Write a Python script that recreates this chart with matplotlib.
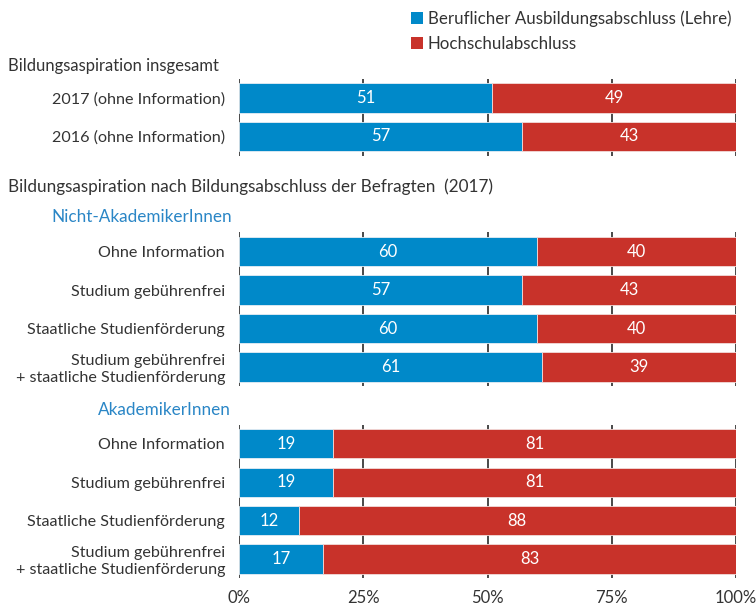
import matplotlib.pyplot as plt
import matplotlib.transforms as mtransforms
from matplotlib.patches import Patch

plt.rcParams['font.family'] = ['Lato', 'DejaVu Sans']

# Daten
labels_gesamt = ['2017 (ohne Information)', '2016 (ohne Information)']
labels_massnahmen = ['Ohne Information', 'Studium gebührenfrei', 'Staatliche Studienförderung',
                     'Studium gebührenfrei\n+ staatliche Studienförderung']
lehre_gesamt = [51, 57]
hochschule_gesamt = [49, 43]
lehre_nicht_akad = [60, 57, 60, 61]
hochschule_nicht_akad = [40, 43, 40, 39]
lehre_akad = [19, 19, 12, 17]
hochschule_akad = [81, 81, 88, 83]
x_ticks = [0, 25, 50, 75, 100]
x_ticklabels = ['0%', '25%', '50%', '75%', '100%']

blau = '#0089c9'
rot = '#c8322a'
text_col = '#333333'
head_blue = '#2a86c6'

fig = plt.figure(figsize=(7.56, 6.11), dpi=100)
ax = fig.add_axes([239 / 756, 1 - 582 / 611, (736 - 239) / 756, (582 - 75) / 611])

# Positionen: Gruppen mit Abstand
pos_gesamt = [0, 1]
pos_nicht = [4, 5, 6, 7]
pos_akad = [9, 10, 11, 12]

bh = 0.76
for pos, lehre, hoch in [(pos_gesamt, lehre_gesamt, hochschule_gesamt),
                         (pos_nicht, lehre_nicht_akad, hochschule_nicht_akad),
                         (pos_akad, lehre_akad, hochschule_akad)]:
    # Gitterlinien je Gruppe
    ax.vlines(x_ticks, pos[0] - 0.5, pos[-1] + 0.5, color='#3a3a3a', lw=1.3, zorder=1)
    ax.barh(pos, lehre, height=bh, color=blau, edgecolor='#e6eef4', lw=0.6, zorder=2)
    ax.barh(pos, hoch, left=lehre, height=bh, color=rot, edgecolor='#f2dcda', lw=0.6, zorder=2)
    for p, l, h in zip(pos, lehre, hoch):
        ax.text(l / 2, p, str(l), ha='center', va='center', color='white', fontsize=12, zorder=3)
        ax.text(l + h / 2, p, str(h), ha='center', va='center', color='white', fontsize=12, zorder=3)

ax.set_xlim(0, 100)
ax.set_ylim(12.6, -0.6)
ax.set_yticks(pos_gesamt + pos_nicht + pos_akad)
ax.set_yticklabels(labels_gesamt + labels_massnahmen + labels_massnahmen, color=text_col, fontsize=11.6,
                   linespacing=1.25)
ax.set_xticks(x_ticks)
ax.set_xticklabels(x_ticklabels, color=text_col, fontsize=12)
ax.tick_params(axis='y', length=0, pad=10)
ax.tick_params(axis='x', length=0, pad=6)
for s in ax.spines.values():
    s.set_visible(False)

# Überschriften
trans = mtransforms.blended_transform_factory(fig.transFigure, ax.transData)
ax.text(8 / 756, -0.84, 'Bildungsaspiration insgesamt', transform=trans, ha='left', va='center',
        color=text_col, fontsize=12, clip_on=False)
ax.text(8 / 756, 2.32, 'Bildungsaspiration nach Bildungsabschluss der Befragten  (2017)', transform=trans,
        ha='left', va='center', color=text_col, fontsize=12.3, clip_on=False)
ax.text(51 / 756, 3.1, 'Nicht-AkademikerInnen', transform=trans, ha='left', va='center',
        color=head_blue, fontsize=12.3, clip_on=False)
ax.text(98 / 756, 8.12, 'AkademikerInnen', transform=trans, ha='left', va='center',
        color=head_blue, fontsize=12.3, clip_on=False)

handles = [Patch(facecolor=blau, label='Beruflicher Ausbildungsabschluss (Lehre)'),
           Patch(facecolor=rot, label='Hochschulabschluss')]
leg = fig.legend(handles=handles, loc='upper left', bbox_to_anchor=(411 / 756, 1 - 10 / 611), frameon=False,
                 fontsize=12.2, handlelength=0.7, handleheight=0.7, handletextpad=0.3, labelspacing=0.55,
                 borderaxespad=0, borderpad=0)
for t in leg.get_texts():
    t.set_color(text_col)

fig.savefig('out.png', dpi=100)
